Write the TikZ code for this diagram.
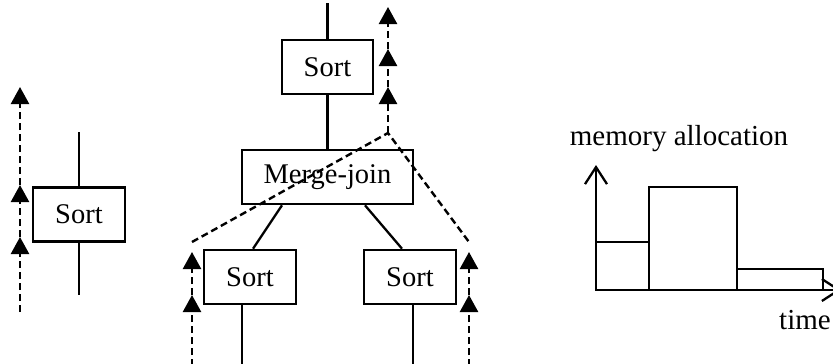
\documentclass[tikz,border=0pt]{standalone}
\usepackage{fontspec}
\setmainfont{Liberation Serif}
\usetikzlibrary{arrows.meta,calc}

\begin{document}
\begin{tikzpicture}[x=1pt,y=-1pt,
  box/.style={draw, line width=2.6pt, inner sep=0pt, minimum height=54pt,
              font=\fontsize{28.5}{32}\selectfont},
  edge/.style={line width=2.3pt},
  guide/.style={line width=2.4pt, dash pattern=on 7pt off 4pt},
  flow/.style={guide, -{Triangle[width=18pt,length=17pt]}},
  axis/.style={line width=2.3pt, -{Straight Barb[length=17pt,width=22pt]}},
  lbl/.style={anchor=base, inner sep=0pt, font=\fontsize{29}{32}\selectfont}]
\useasboundingbox (0,0) rectangle (833,364);

% single sort operator
\node[box, minimum width=92pt] (sortA) at (79,214.5) {Sort};
\coordinate (aTop) at (79,132);
\coordinate (aBot) at (79,295);
\draw[edge] (aTop) -- (sortA);
\draw[edge] (sortA) -- (aBot);

\coordinate (a0) at (20,312);
\coordinate (a1) at (20,237);
\coordinate (a2) at (20,185);
\coordinate (a3) at (20,87);
\draw[flow] (a0) -- (a1);
\draw[flow] (a1) -- (a2);
\draw[flow] (a2) -- (a3);

% merge-join plan
\node[box, minimum width=91pt]  (sortT) at (327.5,67)  {Sort};
\node[box, minimum width=171pt] (merge) at (327.5,177) {Merge-join};
\node[box, minimum width=92pt]  (sortL) at (250,277)   {Sort};
\node[box, minimum width=92pt]  (sortR) at (410,277)   {Sort};

\coordinate (tTop) at (327.5,3);
\coordinate (lBot) at (242,366);
\coordinate (rBot) at (413,366);
\draw[edge] (tTop) -- (sortT);
\draw[edge] (sortT) -- (merge);
\draw[edge] ($(merge.south)+(-45.5,0)$) -- ($(sortL.north)+(3,0)$);
\draw[edge] ($(merge.south)+(37.5,0)$) -- ($(sortR.north)+(-8,0)$);
\draw[edge] (sortL.south -| lBot) -- (lBot);
\draw[edge] (sortR.south -| rBot) -- (rBot);

% pipeline boundaries
\coordinate (j)  at (388,133);
\coordinate (j1) at (388,87);
\coordinate (j2) at (388,49);
\coordinate (j3) at (388,7);
\draw[flow] (j) -- (j1);
\draw[flow] (j1) -- (j2);
\draw[flow] (j2) -- (j3);

\coordinate (dl) at (192,242);
\coordinate (dr) at (469,242);
\draw[guide] (dl) -- (j) -- (dr);

\coordinate (l0) at (192,366);
\coordinate (l1) at (192,295);
\coordinate (l2) at (192,252);
\draw[flow] (l0) -- (l1);
\draw[flow] (l1) -- (l2);

\coordinate (r0) at (469,366);
\coordinate (r1) at (469,295);
\coordinate (r2) at (469,252);
\draw[flow] (r0) -- (r1);
\draw[flow] (r1) -- (r2);

% memory allocation over time
\coordinate (o)    at (596,290);
\coordinate (ytip) at (596,165);
\coordinate (xtip) at (841,290);
\draw[edge] (o) rectangle (649,242);
\draw[edge] (649,290) rectangle (737,187);
\draw[edge] (737,290) rectangle (823,269);
\draw[axis] (o) -- (ytip);
\draw[axis] (o) -- (xtip);

\node[lbl] (ylab) at (679,145) {memory allocation};
\node[lbl] (xlab) at (805,329) {time};
\end{tikzpicture}
\end{document}
